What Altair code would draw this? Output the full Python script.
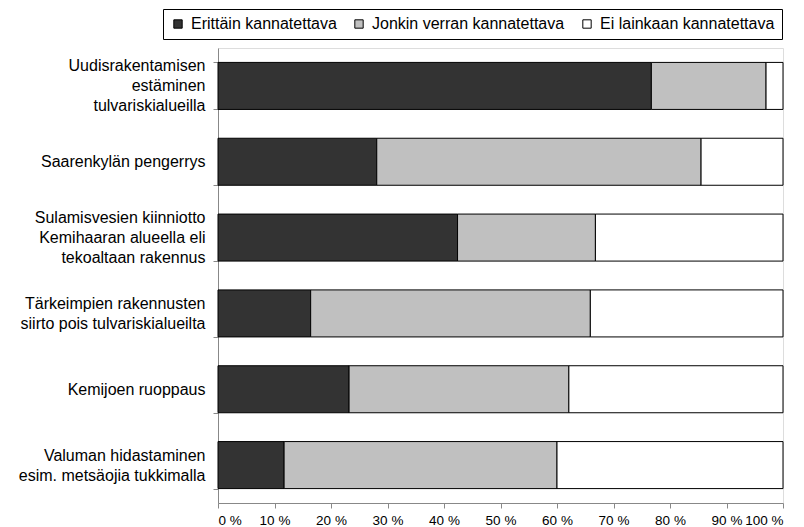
import altair as alt
import pandas as pd

categories = [
    "Uudisrakentamisen|estäminen|tulvariskialueilla",
    "Saarenkylän pengerrys",
    "Sulamisvesien kiinniotto|Kemihaaran alueella eli|tekoaltaan rakennus",
    "Tärkeimpien rakennusten|siirto pois tulvariskialueilta",
    "Kemijoen ruoppaus",
    "Valuman hidastaminen|esim. metsäojia tukkimalla",
]
series_names = ["Erittäin kannatettava", "Jonkin verran kannatettava", "Ei lainkaan kannatettava"]
erittain = [76.7, 28.1, 42.4, 16.4, 23.2, 11.7]
jonkin = [20.3, 57.4, 24.4, 49.5, 38.9, 48.3]
ei = [3.0, 14.5, 33.2, 34.1, 37.9, 40.0]
colors = ["#333333", "#c0c0c0", "#ffffff"]
x_ticks = [0, 10, 20, 30, 40, 50, 60, 70, 80, 90, 100]

rows = []
for i, c in enumerate(categories):
    for j, (name, vals) in enumerate(zip(series_names, [erittain, jonkin, ei])):
        rows.append({"cat": c, "series": name, "value": vals[i], "order": j})
df = pd.DataFrame(rows)

FONT = "Liberation Sans"
LH = 20

chart = alt.Chart(df).mark_bar(stroke="black", strokeWidth=1).encode(
    y=alt.Y(
        "cat:N",
        sort=categories,
        title=None,
        scale=alt.Scale(paddingInner=0.38, paddingOuter=0.19),
        axis=alt.Axis(
            labelExpr="split(datum.label, '|')",
            labelAlign="right",
            labelPadding=8,
            labelLineHeight=LH,
            labelFontSize=16,
            labelLimit=0,
            labelOffset={
                "condition": [
                    {"test": "length(split(datum.value, '|')) == 3", "value": -LH},
                    {"test": "length(split(datum.value, '|')) == 2", "value": -LH / 2},
                ],
                "value": 0,
            },
            tickBand="extent",
            tickSize=5,
        ),
    ),
    x=alt.X(
        "value:Q",
        stack="zero",
        title=None,
        scale=alt.Scale(domain=[0, 100], nice=False),
        axis=alt.Axis(
            values=x_ticks,
            labelExpr="datum.value + ' %'",
            grid=False,
            tickSize=5,
            labelPadding=5,
            labelFontSize=13.5,
        ),
    ),
    color=alt.Color(
        "series:N",
        scale=alt.Scale(domain=series_names, range=colors),
        legend=alt.Legend(
            title=None,
            orient="none",
            legendX=-55,
            legendY=-39,
            direction="horizontal",
            strokeColor="black",
            fillColor="white",
            padding=7,
            symbolType="square",
            symbolSize=70,
            symbolStrokeColor="black",
            symbolStrokeWidth=1,
            labelFontSize=16,
            labelFont=FONT,
            labelLimit=0,
            columnPadding=14,
            labelOffset=5,
        ),
    ),
    order=alt.Order("order:Q"),
).properties(
    width=565,
    height=455,
    autosize=alt.AutoSizeParams(type="none"),
    padding={"left": 210, "top": 40, "right": 5, "bottom": 24},
).configure_view(stroke=None).configure_axis(
    domainColor="black",
    tickColor="black",
    labelColor="black",
    labelFont=FONT,
).configure(background="white")

chart.save("out.html", embed_options={"renderer": "svg", "actions": False})
